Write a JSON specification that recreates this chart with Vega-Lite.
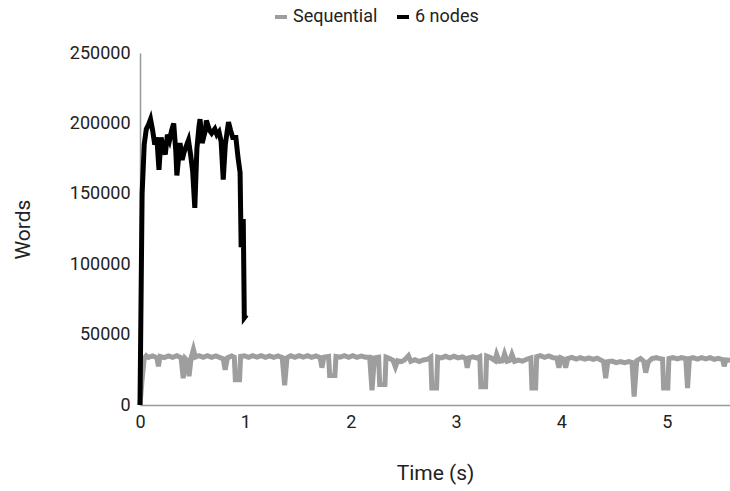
{
  "$schema": "https://vega.github.io/schema/vega-lite/v6.json",
  "width": 590,
  "height": 352,
  "autosize": {"type": "none"},
  "padding": {"left": 140, "top": 53, "right": 0, "bottom": 86},
  "config": {
    "font": "Roboto",
    "view": {"stroke": null},
    "axis": {
      "labelFont": "Roboto",
      "titleFont": "Roboto",
      "labelFontSize": 18,
      "titleFontSize": 21,
      "titleFontWeight": "normal",
      "labelColor": "#222222",
      "titleColor": "#222222",
      "ticks": false,
      "grid": false,
      "labelFlush": false,
      "domainColor": "#999999",
      "domainWidth": 1.5
    },
    "legend": {
      "labelFont": "Roboto",
      "labelFontSize": 18,
      "labelColor": "#222222"
    }
  },
  "datasets": {
    "seq": [
      {"t":0,"v":0},{"t":0.02,"v":18000},{"t":0.04,"v":33000},{"t":0.06,"v":35000},{"t":0.08,"v":33800},{"t":0.12,"v":34800},{"t":0.16,"v":33600},{"t":0.175,"v":27500},{"t":0.19,"v":34500},{"t":0.23,"v":33600},{"t":0.27,"v":34800},{"t":0.31,"v":33800},{"t":0.35,"v":35000},{"t":0.39,"v":33600},{"t":0.41,"v":19000},{"t":0.43,"v":33000},{"t":0.45,"v":31500},{"t":0.466,"v":20500},{"t":0.485,"v":33500},{"t":0.507,"v":39500},{"t":0.525,"v":34000},{"t":0.56,"v":35000},{"t":0.6,"v":33800},{"t":0.64,"v":35000},{"t":0.68,"v":33800},{"t":0.72,"v":34800},{"t":0.76,"v":33600},{"t":0.79,"v":32800},{"t":0.808,"v":25000},{"t":0.83,"v":33500},{"t":0.87,"v":34800},{"t":0.895,"v":34000},{"t":0.905,"v":18000},{"t":0.945,"v":18000},{"t":0.955,"v":34500},{"t":0.99,"v":35000},
      {"t":1.03,"v":33800},{"t":1.07,"v":35000},{"t":1.11,"v":34000},{"t":1.15,"v":35000},{"t":1.19,"v":33800},{"t":1.23,"v":34800},{"t":1.27,"v":33800},{"t":1.31,"v":34800},{"t":1.35,"v":33700},{"t":1.373,"v":14000},{"t":1.395,"v":33500},{"t":1.43,"v":35000},{"t":1.47,"v":33800},{"t":1.51,"v":35000},{"t":1.55,"v":34000},{"t":1.59,"v":35000},{"t":1.63,"v":33800},{"t":1.67,"v":34800},{"t":1.71,"v":33700},{"t":1.727,"v":26500},{"t":1.745,"v":34000},{"t":1.79,"v":34500},{"t":1.8,"v":21000},{"t":1.85,"v":21000},{"t":1.86,"v":34500},{"t":1.9,"v":34000},{"t":1.94,"v":35000},{"t":1.98,"v":33800},
      {"t":2.02,"v":35000},{"t":2.06,"v":33800},{"t":2.1,"v":34800},{"t":2.14,"v":34000},{"t":2.18,"v":34000},{"t":2.202,"v":10500},{"t":2.225,"v":33500},{"t":2.265,"v":34000},{"t":2.275,"v":14500},{"t":2.325,"v":14500},{"t":2.335,"v":34000},{"t":2.37,"v":33000},{"t":2.4,"v":31800},{"t":2.424,"v":27000},{"t":2.445,"v":31500},{"t":2.48,"v":30800},{"t":2.51,"v":32000},{"t":2.548,"v":35000},{"t":2.57,"v":31000},{"t":2.61,"v":32200},{"t":2.65,"v":30800},{"t":2.69,"v":32000},{"t":2.73,"v":32500},{"t":2.76,"v":34000},{"t":2.77,"v":12000},{"t":2.815,"v":12000},{"t":2.825,"v":34000},{"t":2.86,"v":33500},{"t":2.9,"v":34600},{"t":2.94,"v":33500},{"t":2.98,"v":34600},
      {"t":3.02,"v":33500},{"t":3.06,"v":34200},{"t":3.09,"v":33200},{"t":3.106,"v":26500},{"t":3.125,"v":33500},{"t":3.16,"v":34200},{"t":3.2,"v":33400},{"t":3.225,"v":34300},{"t":3.235,"v":13000},{"t":3.28,"v":13000},{"t":3.29,"v":34700},{"t":3.33,"v":33500},{"t":3.37,"v":31500},{"t":3.385,"v":36000},{"t":3.41,"v":31000},{"t":3.44,"v":31300},{"t":3.46,"v":36300},{"t":3.485,"v":31000},{"t":3.51,"v":31700},{"t":3.53,"v":36000},{"t":3.555,"v":31000},{"t":3.59,"v":31900},{"t":3.63,"v":31100},{"t":3.67,"v":32500},{"t":3.71,"v":33500},{"t":3.72,"v":12000},{"t":3.755,"v":12000},{"t":3.765,"v":34300},{"t":3.8,"v":35000},{"t":3.84,"v":33800},{"t":3.88,"v":34800},{"t":3.92,"v":33600},{"t":3.955,"v":33500},{"t":3.976,"v":26500},{"t":3.995,"v":33500},
      {"t":4.02,"v":32700},{"t":4.04,"v":26500},{"t":4.06,"v":33000},{"t":4.1,"v":33800},{"t":4.14,"v":32600},{"t":4.18,"v":33600},{"t":4.22,"v":32600},{"t":4.26,"v":33400},{"t":4.3,"v":32400},{"t":4.34,"v":33200},{"t":4.38,"v":31700},{"t":4.4,"v":30800},{"t":4.42,"v":19000},{"t":4.44,"v":30700},{"t":4.48,"v":31200},{"t":4.52,"v":30100},{"t":4.56,"v":30900},{"t":4.6,"v":30100},{"t":4.64,"v":30800},{"t":4.67,"v":30200},{"t":4.69,"v":6000},{"t":4.715,"v":31500},{"t":4.75,"v":33000},{"t":4.78,"v":31200},{"t":4.8,"v":23000},{"t":4.825,"v":30700},{"t":4.86,"v":33000},{"t":4.9,"v":33600},{"t":4.94,"v":32800},{"t":4.96,"v":32600},{"t":4.97,"v":12000},{"t":5.01,"v":12000},
      {"t":5.02,"v":33000},{"t":5.06,"v":33600},{"t":5.1,"v":32800},{"t":5.14,"v":33600},{"t":5.18,"v":33000},{"t":5.197,"v":12000},{"t":5.215,"v":33000},{"t":5.25,"v":33600},{"t":5.29,"v":32600},{"t":5.33,"v":33600},{"t":5.37,"v":32800},{"t":5.41,"v":33600},{"t":5.45,"v":32400},{"t":5.49,"v":33200},{"t":5.53,"v":32200},{"t":5.545,"v":27500},{"t":5.56,"v":32000},{"t":5.6,"v":31700}
    ],
    "six": [
      {"t":0,"v":0},{"t":0.02,"v":150000},{"t":0.04,"v":185000},{"t":0.06,"v":196000},{"t":0.08,"v":199000},{"t":0.1,"v":203000},{"t":0.12,"v":195000},{"t":0.14,"v":185000},{"t":0.16,"v":190000},{"t":0.18,"v":167000},{"t":0.2,"v":190000},{"t":0.22,"v":182000},{"t":0.24,"v":178000},{"t":0.26,"v":192000},{"t":0.28,"v":188000},{"t":0.3,"v":195000},{"t":0.32,"v":200000},{"t":0.34,"v":180000},{"t":0.35,"v":163000},{"t":0.38,"v":186000},{"t":0.4,"v":174000},{"t":0.42,"v":180000},{"t":0.44,"v":184000},{"t":0.46,"v":188000},{"t":0.48,"v":178000},{"t":0.5,"v":166000},{"t":0.52,"v":140000},{"t":0.54,"v":182000},{"t":0.56,"v":198000},{"t":0.57,"v":203000},{"t":0.59,"v":186000},{"t":0.62,"v":195000},{"t":0.63,"v":202000},{"t":0.66,"v":195000},{"t":0.68,"v":193000},{"t":0.71,"v":196000},{"t":0.73,"v":192000},{"t":0.75,"v":194000},{"t":0.77,"v":187000},{"t":0.79,"v":160000},{"t":0.81,"v":185000},{"t":0.84,"v":201000},{"t":0.86,"v":195000},{"t":0.88,"v":190000},{"t":0.91,"v":190000},{"t":0.93,"v":176000},{"t":0.95,"v":165000},{"t":0.96,"v":112000},{"t":0.98,"v":132000},{"t":0.99,"v":62000},{"t":1.01,"v":64000}
    ]
  },
  "encoding": {
    "x": {
      "field": "t",
      "type": "quantitative",
      "scale": {"domain": [0, 5.6], "nice": false},
      "axis": {"values": [0, 1, 2, 3, 4, 5], "title": "Time (s)", "labelPadding": 8, "titlePadding": 31}
    },
    "y": {
      "field": "v",
      "type": "quantitative",
      "scale": {"domain": [0, 250000], "nice": false},
      "axis": {"values": [0, 50000, 100000, 150000, 200000, 250000], "format": "d", "title": "Words", "labelPadding": 10, "titlePadding": 36}
    }
  },
  "layer": [
    {
      "data": {"name": "seq"},
      "mark": {"type": "line", "strokeWidth": 5},
      "encoding": {
        "color": {
          "datum": "Sequential",
          "type": "nominal",
          "scale": {"domain": ["Sequential", "6 nodes"], "range": ["#9e9e9e", "#000000"]},
          "legend": {
            "title": null,
            "orient": "none",
            "legendX": 132,
            "legendY": -45,
            "direction": "horizontal",
            "symbolType": "stroke",
            "symbolStrokeWidth": 4,
            "symbolSize": 144,
            "labelOffset": 3,
            "columnPadding": 11,
            "padding": 0
          }
        }
      }
    },
    {
      "data": {"name": "six"},
      "mark": {"type": "line", "strokeWidth": 5},
      "encoding": {
        "color": {"datum": "6 nodes", "type": "nominal"}
      }
    }
  ]
}
